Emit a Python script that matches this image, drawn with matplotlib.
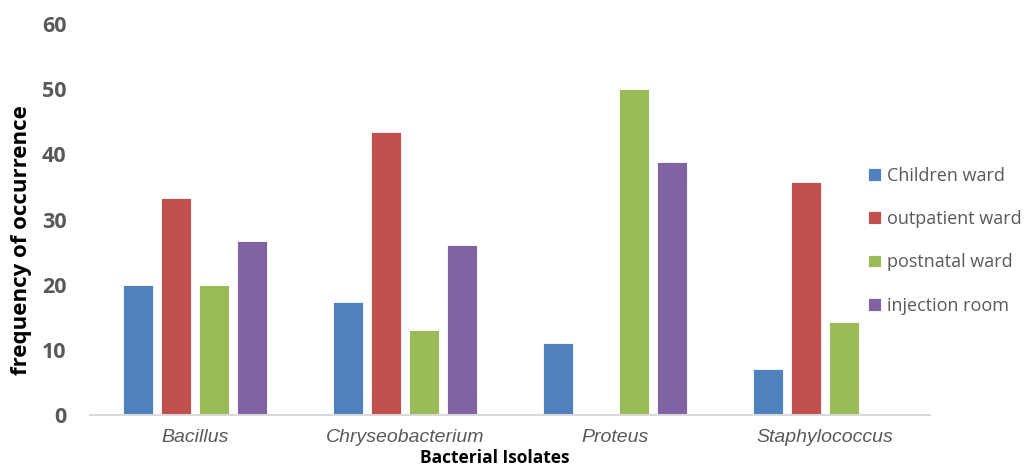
import matplotlib
matplotlib.use("Agg")
import matplotlib.pyplot as plt
import numpy as np

isolates = ["Bacillus", "Chryseobacterium", "Proteus", "Staphylococcus"]
wards = ["Children ward", "outpatient ward", "postnatal ward", "injection room"]
children = [20.0, 17.4, 11.1, 7.1]
outpatient = [33.3, 43.5, 0, 35.7]
postnatal = [20.0, 13.0, 50.0, 14.3]
injection = [26.7, 26.1, 38.9, 0]
colors = ["#4f81bd", "#c0504d", "#9bbb59", "#8064a2"]

series = [children, outpatient, postnatal, injection]

fig = plt.figure(figsize=(10.34, 4.66), dpi=100)
ax = fig.add_axes([0.087, 0.1094, 0.812, 0.8391])

x = np.arange(len(isolates))
step = 0.181
width = 0.143
for i, (vals, name) in enumerate(zip(series, wards)):
    ax.bar(x + (i - 1.5) * step, vals, width, color=colors[i], label=name,
           edgecolor="white", linewidth=0.6)

ax.set_xlim(-0.5, 3.5)
ax.set_ylim(0, 60)
ax.set_yticks(range(0, 61, 10))
for s in ["top", "right", "left"]:
    ax.spines[s].set_visible(False)
ax.spines["bottom"].set_color("#d9d9d9")
ax.spines["bottom"].set_linewidth(1.5)
ax.tick_params(axis="both", length=0)
ax.tick_params(axis="y", pad=17)

for lab in ax.get_yticklabels():
    lab.set_fontfamily("Open Sans")
    lab.set_fontweight("bold")
    lab.set_fontsize(15.5)
    lab.set_color("#595959")

ax.set_xticks(x)
ax.set_xticklabels(isolates, fontfamily="Liberation Sans", style="italic",
                   fontsize=14, color="#595959")
ax.tick_params(axis="x", pad=10)

fig.text(0.021, 0.485, "frequency of occurrence", fontfamily="Open Sans",
         fontweight="bold", fontsize=16, rotation=90, ha="center", va="center")
fig.text(0.478, -0.003, "Bacterial Isolates", fontfamily="Open Sans",
         fontweight="bold", fontsize=12.5, ha="center", va="bottom")

leg = ax.legend(loc="center left", bbox_to_anchor=(0.918, 0.446), frameon=False,
                handlelength=0.7, handleheight=0.7, handletextpad=0.35,
                labelspacing=1.4, borderaxespad=0,
                prop={"family": "Open Sans", "size": 13})
for t in leg.get_texts():
    t.set_color("#595959")

fig.savefig("out.png", dpi=100)
